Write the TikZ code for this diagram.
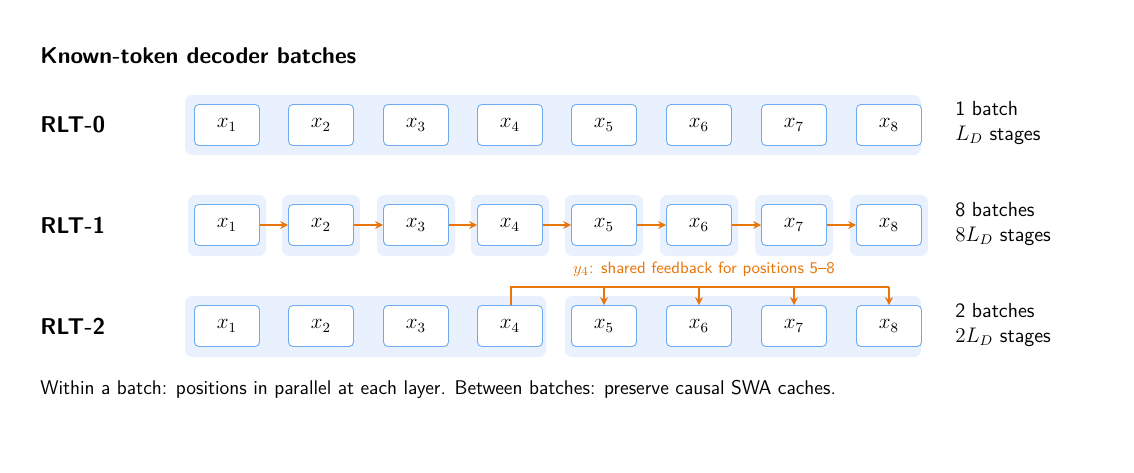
\documentclass[tikz,border=0pt]{standalone}
\usetikzlibrary{arrows.meta}
\begin{document}
\begin{tikzpicture}[x=0.02cm,y=-0.02cm,font=\sffamily\fontsize{11.3}{13}\selectfont,
  tok/.style={draw=boxblue,fill=white,rounded corners=2.5pt,minimum width=1.3cm,minimum height=0.82cm,inner sep=0pt,line width=0.5pt,font=\fontsize{11.5}{13}\selectfont},
  bg/.style={fill=bgblue,rounded corners=4pt,draw=none},
  lab/.style={anchor=west,inner sep=0pt,font=\sffamily\bfseries\fontsize{13}{15}\selectfont},
  info/.style={anchor=west,inner sep=0pt,align=left,font=\sffamily\fontsize{11.6}{14.5}\selectfont},
  arr/.style={draw=orng,line width=0.8pt,-{Stealth[length=4.5pt,width=4.5pt]}}]
\definecolor{boxblue}{RGB}{110,170,240}
\definecolor{bgblue}{RGB}{232,241,253}
\definecolor{orng}{RGB}{232,118,10}
\useasboundingbox (0,0) rectangle (1134,473);
\node[lab] (title) at (40,56) {Known-token decoder batches};
% backgrounds
\fill[bg] (185,95) rectangle (921,155);
\foreach \c in {227,321,416,510,604,699,794,889}
  \fill[bg] (\c-39,195) rectangle (\c+39,256);
\fill[bg] (185,296) rectangle (546,357);
\fill[bg] (565,296) rectangle (921,357);
% nodes
\foreach \r/\y in {0/125,1/225,2/326}{
  \foreach \i/\c in {1/227,2/321,3/416,4/510,5/604,6/699,7/794,8/889}
    \node[tok] (n\r\i) at (\c,\y) {$x_{\i}$};
}
\node[lab] (l0) at (40,125) {RLT-0};
\node[lab] (l1) at (40,225) {RLT-1};
\node[lab] (l2) at (40,326) {RLT-2};
\node[info] (i0) at (955,123) {1 batch\\$L_D$ stages};
\node[info] (i1) at (955,224) {8 batches\\$8L_D$ stages};
\node[info] (i2) at (955,325) {2 batches\\$2L_D$ stages};
\foreach \a/\b in {1/2,2/3,3/4,4/5,5/6,6/7,7/8}
  \draw[arr] (n1\a.east) -- (n1\b.west);
\coordinate (fb) at (511,287);
\draw[orng,line width=0.8pt] (n24.north -| fb) -- (fb) -- (889,287);
\foreach \i in {5,6,7,8}
  \draw[arr] (n2\i.north |- fb) -- (n2\i.north);
\node[text=orng,font=\sffamily\fontsize{9.3}{11}\selectfont] (fl) at (704,269) {$y_4$: shared feedback for positions 5--8};
\node[anchor=west,inner sep=0pt] (cap) at (40,389) {Within a batch: positions in parallel at each layer. Between batches: preserve causal SWA caches.};
\end{tikzpicture}
\end{document}
